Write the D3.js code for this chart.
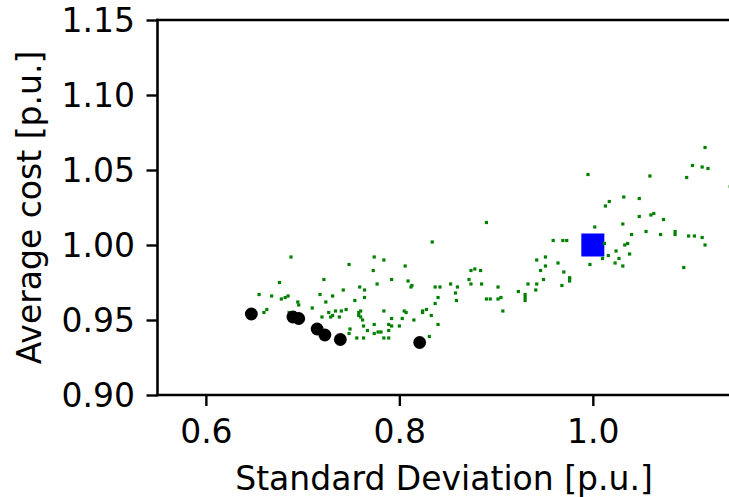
<!DOCTYPE html>
<html>
<head>
<meta charset="utf-8">
<script src="https://cdn.jsdelivr.net/npm/d3@7"></script>
<style>
  html, body { margin: 0; padding: 0; background: #fff; overflow: hidden; }
  svg { display: block; font-family: "DejaVu Sans", sans-serif; }
</style>
</head>
<body>
<svg id="chart" width="729" height="497"></svg>
<script>
// ---- data ----
const greenX = [0.688,0.676,0.655,0.668,0.678,0.682,0.685,0.695,0.663,0.660,0.686,
  0.834,0.774,0.784,0.748,0.806,0.773,0.722,0.792,0.809,0.777,0.813,0.812,0.837,0.759,
  0.764,0.742,0.718,0.731,0.840,0.764,0.696,0.724,0.754,0.837,0.710,0.734,0.740,0.745,
  0.760,0.784,0.805,0.807,0.824,0.828,0.824,0.727,0.731,0.729,0.758,0.758,0.760,0.720,
  0.738,0.833,0.803,0.792,0.815,0.762,0.774,0.789,0.792,0.840,0.800,0.763,0.749,0.748,
  0.767,0.778,0.781,0.774,0.789,0.831,0.756,0.763,0.784,0.789,
  0.890,0.959,0.969,0.973,0.942,0.951,0.964,0.951,0.946,0.970,0.874,0.878,0.884,0.872,
  0.874,0.885,0.976,0.976,0.949,0.942,0.933,0.968,0.853,0.842,0.860,0.902,0.941,0.923,
  0.858,0.905,0.902,0.890,0.894,0.930,0.930,0.930,0.859,0.907,
  1.116,1.103,1.113,1.119,0.995,1.059,1.097,1.142,1.032,1.048,1.017,1.013,1.060,1.063,
  1.048,1.073,1.002,1.031,1.055,1.040,1.070,1.085,1.085,1.099,1.105,1.113,1.116,1.012,
  1.036,1.033,1.024,1.038,1.016,1.010,1.027,1.023,1.031,0.997,1.094,0.976];
const greenY = [0.992,0.975,0.967,0.966,0.964,0.965,0.966,0.962,0.957,0.955,0.955,
  1.002,0.992,0.990,0.987,0.986,0.983,0.977,0.977,0.976,0.974,0.973,0.972,0.972,0.972,
  0.970,0.970,0.967,0.966,0.965,0.965,0.960,0.962,0.963,0.961,0.958,0.956,0.956,0.957,
  0.956,0.956,0.956,0.955,0.956,0.957,0.955,0.955,0.953,0.952,0.955,0.953,0.952,0.952,
  0.952,0.953,0.951,0.951,0.950,0.950,0.947,0.947,0.946,0.947,0.946,0.946,0.944,0.941,
  0.943,0.942,0.942,0.941,0.943,0.939,0.938,0.938,0.938,0.938,
  1.015,1.003,1.003,1.003,0.990,0.992,0.988,0.986,0.983,0.982,0.983,0.984,0.983,0.977,
  0.974,0.974,0.978,0.976,0.977,0.974,0.974,0.973,0.974,0.972,0.972,0.972,0.970,0.969,
  0.968,0.965,0.964,0.964,0.964,0.967,0.965,0.963,0.963,0.956,
  1.065,1.053,1.052,1.051,1.047,1.046,1.045,1.039,1.032,1.031,1.029,1.026,1.020,1.021,
  1.019,1.017,1.012,1.014,1.009,1.007,1.007,1.009,1.007,1.006,1.006,1.005,1.000,1.001,
  1.001,1.000,0.996,0.994,0.993,0.991,0.991,0.988,0.986,0.987,0.985,0.978];
const blackX = [0.647,0.690,0.696,0.715,0.723,0.739,0.821];
const blackY = [0.954,0.952,0.951,0.944,0.940,0.937,0.935];
const blueX = [1.0];
const blueY = [1.0];
const xTicks = [0.6, 0.8, 1.0];
const yTicks = [0.90, 0.95, 1.00, 1.05, 1.10, 1.15];
const xLabel = "Standard Deviation [p.u.]";
const yLabel = "Average cost [p.u.]";

// ---- layout ----
const svg = d3.select("#chart");
const mLeft = 157.5, mRight = 730.5, mTop = 20, mBottom = 395;
const x = d3.scaleLinear().domain([0.55, 1.1423]).range([mLeft, mRight]);
const y = d3.scaleLinear().domain([0.90, 1.15]).range([mBottom, mTop]);
const fs = 33;

// markers
const green = d3.zip(greenX, greenY);
const black = d3.zip(blackX, blackY);
const blue = d3.zip(blueX, blueY);

const plot = svg.append("g");
plot.selectAll("rect.blue").data(blue).enter().append("rect")
  .attr("class", "blue")
  .attr("x", d => x(d[0]) - 11.5).attr("y", d => y(d[1]) - 11.5)
  .attr("width", 23).attr("height", 23).attr("fill", "#0000ff");
plot.selectAll("rect.green").data(green).enter().append("rect")
  .attr("class", "green")
  .attr("x", d => x(d[0]) - 1.6).attr("y", d => y(d[1]) - 1.6)
  .attr("width", 3.2).attr("height", 3.2).attr("fill", "#008000");
plot.selectAll("circle").data(black).enter().append("circle")
  .attr("cx", d => x(d[0])).attr("cy", d => y(d[1])).attr("r", 6.4)
  .attr("fill", "#000");

// axes
const xAxis = d3.axisBottom(x).tickValues(xTicks).tickFormat(d3.format(".1f"))
  .tickSize(11).tickPadding(14);
const gx = svg.append("g").attr("transform", `translate(0,${mBottom})`).call(xAxis);
const yAxis = d3.axisLeft(y).tickValues(yTicks).tickFormat(d3.format(".2f"))
  .tickSize(11).tickPadding(11.5);
const gy = svg.append("g").attr("transform", `translate(${mLeft},0)`).call(yAxis);
[gx, gy].forEach(g => {
  g.select(".domain").remove();
  g.selectAll(".tick line").attr("stroke", "#000").attr("stroke-width", 2.4);
  g.selectAll(".tick text").attr("fill", "#000")
    .style("font-size", fs + "px").style("font-family", "DejaVu Sans");
});
gy.selectAll(".tick text").attr("dy", "0.36em");

// spines
const sp = svg.append("g").attr("stroke", "#000").attr("stroke-width", 2.6)
  .attr("stroke-linecap", "square");
sp.append("line").attr("x1", mLeft).attr("x2", mLeft).attr("y1", mTop).attr("y2", mBottom);
sp.append("line").attr("x1", mLeft).attr("x2", mRight).attr("y1", mBottom).attr("y2", mBottom);
sp.append("line").attr("x1", mLeft).attr("x2", mRight).attr("y1", mTop).attr("y2", mTop);
sp.append("line").attr("x1", mRight).attr("x2", mRight).attr("y1", mTop).attr("y2", mBottom);

// labels
svg.append("text").attr("x", (mLeft + mRight) / 2).attr("y", 490)
  .attr("text-anchor", "middle").style("font-size", fs + "px").attr("fill", "#000")
  .text(xLabel);
svg.append("text")
  .attr("transform", `translate(41,${(mTop + mBottom) / 2}) rotate(-90)`)
  .attr("text-anchor", "middle").style("font-size", fs + "px").attr("fill", "#000")
  .text(yLabel);
</script>
</body>
</html>
